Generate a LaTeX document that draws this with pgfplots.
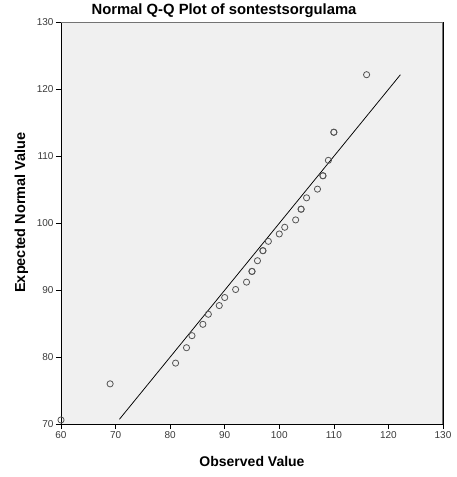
\documentclass[border=0pt]{standalone}
\usepackage{pgfplots}
\pgfplotsset{compat=1.18}
\usepackage{fontspec}
\setmainfont{Liberation Sans}
\definecolor{bgray}{HTML}{F0F0F0}
\definecolor{mk}{HTML}{555555}
\definecolor{tk}{HTML}{3A3A3A}
\begin{document}
\begin{tikzpicture}
\useasboundingbox (-61pt,-53pt) rectangle (395pt,424pt);
\begin{axis}[
  at={(0pt,0pt)}, anchor=south west,
  scale only axis, width=382pt, height=401.5pt,
  xmin=60, xmax=130, ymin=70, ymax=130,
  xtick={60,70,...,130}, ytick={70,80,...,130},
  xtick pos=bottom, ytick pos=left,
  tick align=outside, major tick length=5pt,
  tick style={black, line width=0.6pt},
  axis line style={black, line width=0.7pt},
  axis background/.style={fill=bgray},
  ticklabel style={font=\fontsize{10}{12}\selectfont, text=tk},
  /pgf/number format/assume math mode=true,
  xticklabel style={yshift=1pt},
  yticklabel style={xshift=1pt},
]
\addplot[only marks, mark=o, mark size=3.1pt, color=mk, mark options={line width=0.8pt}] coordinates {
(60,70.6) (69,76.0) (81,79.1) (83,81.4) (84,83.2) (86,84.9) (87,86.4) (89,87.7)
(90,88.9) (92,90.1) (94,91.2) (95,92.8) (95,92.8) (96,94.4) (97,95.9) (97,95.9)
(98,97.3) (100,98.4) (101,99.4) (103,100.5) (104,102.1) (104,102.1) (105,103.8)
(107,105.1) (108,107.1) (108,107.1) (109,109.4) (110,113.6) (110,113.6) (116,122.2)
};
\addplot[black, line width=0.75pt] coordinates {(70.7,70.7) (122.2,122.2)};
\draw[color=black!55, line width=1.3pt] (rel axis cs:0,1) -- (rel axis cs:1,1) -- (rel axis cs:1,0);
\end{axis}
\node[font=\bfseries\fontsize{14.8}{16}\selectfont] at (163pt,413.5pt) {Normal Q-Q Plot of sontestsorgulama};
\node[font=\bfseries\fontsize{14}{16}\selectfont] at (191pt,-37.5pt) {Observed Value};
\node[font=\bfseries\fontsize{14.5}{16}\selectfont, rotate=90] at (-39.5pt,211.5pt) {Expected Normal Value};
\end{tikzpicture}
\end{document}
